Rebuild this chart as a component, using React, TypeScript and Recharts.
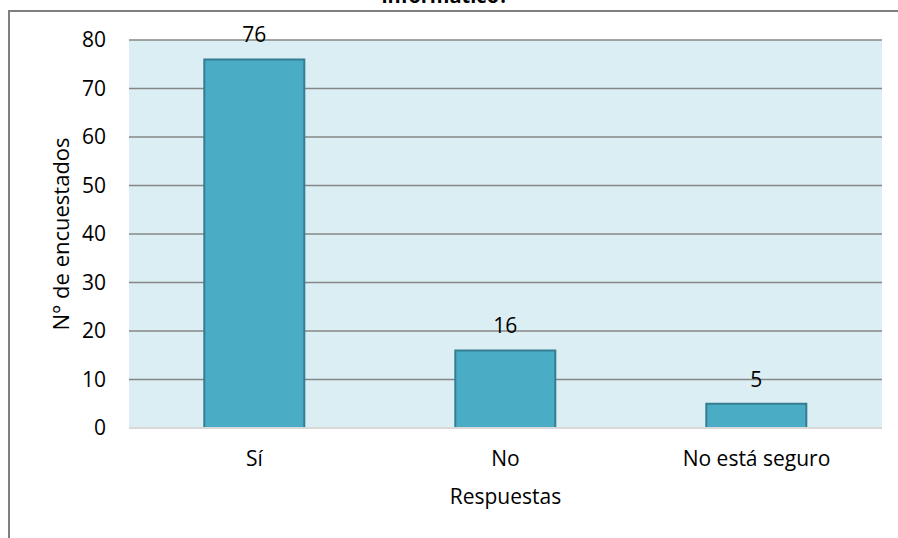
import React from "react";
import { BarChart, Bar, XAxis, YAxis, CartesianGrid, LabelList, Label } from "recharts";

const categories = ["Sí", "No", "No está seguro"];
const values = [76, 16, 5];
const yTicks = [0, 10, 20, 30, 40, 50, 60, 70, 80];
const titleText = "informático?";
const yAxisTitle = "N° de encuestados";
const xAxisTitle = "Respuestas";

const data = categories.map((c, i) => ({ name: c, value: values[i] }));

const FONT = "'Open Sans', 'Noto Sans', sans-serif";
const FS = 21;

export default function App() {
  return (
    <div style={{ position: "absolute", left: 0, top: 0, width: 898, height: 538, background: "#fff", overflow: "hidden" }}>
      <div
        style={{
          position: "absolute",
          left: 8,
          top: 10,
          width: 1000,
          height: 1000,
          borderTop: "2px solid #7f7f7f",
          borderLeft: "2px solid #7f7f7f",
          boxSizing: "border-box",
        }}
      />
      <div
        style={{
          position: "absolute",
          left: 0,
          width: 898,
          top: -14,
          textAlign: "center",
          fontFamily: FONT,
          fontWeight: 700,
          fontSize: 20,
          color: "#000",
          lineHeight: "20px",
        }}
      >
        <span style={{ position: "relative", left: -4 }}>{titleText}</span>
      </div>
      <div style={{ position: "absolute", left: 0, top: 0 }}>
        <BarChart
          width={898}
          height={538}
          data={data}
          margin={{ top: 40, right: 16, bottom: 30, left: 0 }}
          barCategoryGap="30%"
          style={{ fontFamily: FONT }}
        >
          <CartesianGrid horizontal vertical={false} stroke="#868686" strokeWidth={1.5} fill="#DAEEF3" fillOpacity={1} />
          <XAxis
            dataKey="name"
            height={80}
            axisLine={{ stroke: "#D9D9D9", strokeWidth: 2 }}
            tickLine={false}
            tickMargin={17}
            tick={{ fill: "#000", fontSize: FS, fontFamily: FONT }}
          >
            <Label value={xAxisTitle} position="insideBottom" offset={4} fill="#000" fontSize={FS} fontFamily={FONT} />
          </XAxis>
          <YAxis
            width={129}
            domain={[0, 80]}
            ticks={yTicks}
            interval={0}
            axisLine={false}
            tickLine={false}
            tickMargin={17}
            tick={{ fill: "#000", fontSize: FS, fontFamily: FONT }}
          >
            <Label
              content={(props: any) => {
                const vb = props.viewBox || { x: 0, y: 40, width: 129, height: 388 };
                const cx = vb.x + 60;
                const cy = vb.y + vb.height / 2;
                return (
                  <text
                    x={cx}
                    y={cy}
                    transform={`rotate(-90, ${cx}, ${cy})`}
                    textAnchor="middle"
                    dominantBaseline="central"
                    fill="#000"
                    fontSize={22}
                    fontFamily={FONT}
                  >
                    {yAxisTitle}
                  </text>
                );
              }}
            />
          </YAxis>
          <Bar dataKey="value" fill="#4BACC6" stroke="#357D91" strokeWidth={2} isAnimationActive={false}>
            <LabelList dataKey="value" position="top" offset={17} fill="#000" fontSize={FS} fontFamily={FONT} />
          </Bar>
        </BarChart>
      </div>
    </div>
  );
}
